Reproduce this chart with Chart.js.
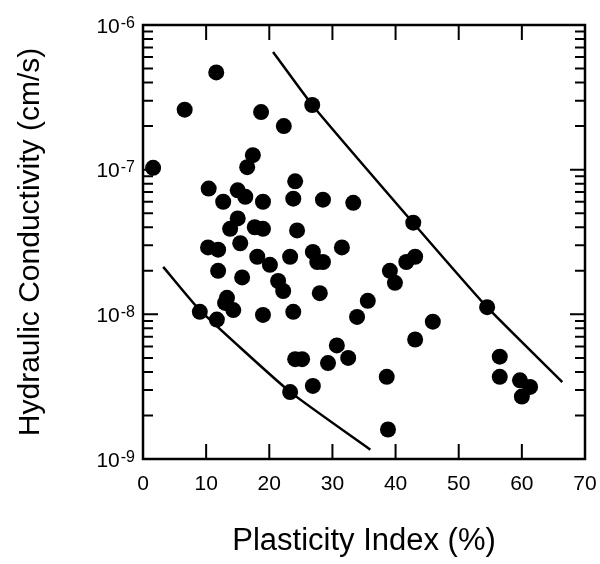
<!DOCTYPE html>
<html>
<head>
<meta charset="utf-8">
<script src="https://cdn.jsdelivr.net/npm/chart.js@4"></script>
<style>
  html, body { margin: 0; padding: 0; background: #fff; }
  canvas { display: block; }
</style>
</head>
<body>
<canvas id="chart" width="600" height="564"></canvas>
<script>
// ================= DATA =================
const plasticityIndex = [
  11.6, 6.6, 18.7, 22.3, 26.8, 17.4, 16.5, 1.6, 10.4, 12.7,
  15.0, 16.2, 19.0, 24.1, 23.8, 28.5, 33.3, 15.0, 13.8, 17.7,
  19.0, 15.4, 10.3, 11.9, 24.4, 23.3, 18.1, 20.1, 21.4, 22.2,
  11.9, 15.7, 13.3, 9.0, 11.7, 13.0, 14.3, 19.0, 23.8, 31.5,
  26.9, 27.6, 28.5, 28.0, 39.1, 39.9, 41.7, 43.1, 42.8, 35.6,
  33.9, 43.1, 45.9, 24.1, 25.2, 30.7, 29.3, 32.5, 26.9, 23.3,
  38.6, 38.8, 54.5, 56.5, 56.5, 59.7, 61.3, 60.0
];
const conductivity = [
  4.7e-7, 2.6e-7, 2.5e-7, 2.0e-7, 2.8e-7, 1.26e-7, 1.04e-7, 1.03e-7, 7.4e-8, 6.0e-8,
  7.2e-8, 6.5e-8, 6.0e-8, 8.3e-8, 6.3e-8, 6.2e-8, 5.9e-8, 4.6e-8, 3.9e-8, 4.0e-8,
  3.9e-8, 3.1e-8, 2.9e-8, 2.8e-8, 3.8e-8, 2.5e-8, 2.5e-8, 2.2e-8, 1.7e-8, 1.45e-8,
  2.0e-8, 1.8e-8, 1.3e-8, 1.04e-8, 9.2e-9, 1.2e-8, 1.07e-8, 9.9e-9, 1.04e-8, 2.9e-8,
  2.7e-8, 2.3e-8, 2.3e-8, 1.4e-8, 2.0e-8, 1.65e-8, 2.3e-8, 2.5e-8, 4.3e-8, 1.24e-8,
  9.6e-9, 6.7e-9, 8.9e-9, 4.9e-9, 4.9e-9, 6.1e-9, 4.6e-9, 5.0e-9, 3.2e-9, 2.9e-9,
  3.7e-9, 1.6e-9, 1.12e-8, 5.1e-9, 3.7e-9, 3.5e-9, 3.15e-9, 2.7e-9
];

// bounding curves
const upperCurvePI = [20.6, 26.8, 42.8, 54.5, 66.4];
const upperCurveK = [6.5e-7, 2.8e-7, 4.28e-8, 1.12e-8, 3.4e-9];
const lowerCurvePI = [3.2, 9.0, 23.3, 36.0];
const lowerCurveK = [2.13e-8, 1.07e-8, 2.91e-9, 1.16e-9];

// axes
const xTicks = [0, 10, 20, 30, 40, 50, 60, 70];
const yDecades = [1e-9, 1e-8, 1e-7, 1e-6];
const yDecadeBase = "10";
const yDecadeExponents = ["-9", "-8", "-7", "-6"];
const yMinorSteps = [2, 3, 4, 5, 6, 7, 8, 9];

const FONT = "'Liberation Sans', Arial, Helvetica, sans-serif";

function toPoints(xs, ys) {
  return xs.map((x, i) => ({ x: x, y: ys[i] }));
}

// ================= INWARD TICKS, FRAME, DECADE LABELS =================
const frameTicks = {
  id: "frameTicks",
  afterDraw(chart) {
    const { ctx, chartArea: a, scales: { x, y } } = chart;
    ctx.save();
    ctx.strokeStyle = "#000";
    ctx.lineWidth = 2;
    ctx.beginPath();
    x.ticks.forEach(t => {
      if (t.value <= x.min || t.value >= x.max) return;
      const px = x.getPixelForValue(t.value);
      ctx.moveTo(px, a.bottom); ctx.lineTo(px, a.bottom - 15);
      ctx.moveTo(px, a.top); ctx.lineTo(px, a.top + 15);
    });
    y.ticks.forEach(t => {
      const py = y.getPixelForValue(t.value);
      const len = yDecades.includes(t.value) ? 15 : 10;
      ctx.moveTo(a.left, py); ctx.lineTo(a.left + len, py);
      ctx.moveTo(a.right, py); ctx.lineTo(a.right - len, py);
    });
    ctx.stroke();
    ctx.lineWidth = 2.5;
    ctx.strokeRect(a.left, a.top, a.right - a.left, a.bottom - a.top);

    // 10 with superscript exponent, right aligned left of the axis
    ctx.fillStyle = "#000";
    ctx.textBaseline = "alphabetic";
    ctx.textAlign = "left";
    yDecades.forEach((d, i) => {
      const py = y.getPixelForValue(d);
      ctx.font = "16px " + FONT;
      const expW = ctx.measureText(yDecadeExponents[i]).width;
      ctx.font = "21px " + FONT;
      const baseW = ctx.measureText(yDecadeBase).width;
      const right = a.left - 8;
      ctx.fillText(yDecadeBase, right - expW - baseW - 1, py + 7.5);
      ctx.font = "16px " + FONT;
      ctx.fillText(yDecadeExponents[i], right - expW, py + 2.5);
    });
    ctx.restore();
  }
};

// ================= CHART =================
const curveStyle = {
  type: "line",
  borderColor: "#000",
  borderWidth: 2.5,
  pointRadius: 0,
  fill: false,
  tension: 0.15
};

new Chart(document.getElementById("chart"), {
  type: "scatter",
  data: {
    datasets: [
      {
        label: "Data",
        data: toPoints(plasticityIndex, conductivity),
        backgroundColor: "#000",
        borderWidth: 0,
        pointRadius: 8,
        pointHoverRadius: 8
      },
      Object.assign({ label: "Upper", data: toPoints(upperCurvePI, upperCurveK) }, curveStyle),
      Object.assign({ label: "Lower", data: toPoints(lowerCurvePI, lowerCurveK) }, curveStyle)
    ]
  },
  options: {
    responsive: false,
    animation: false,
    events: [],
    layout: { padding: { left: 0, right: 15, top: 25, bottom: 0 } },
    plugins: {
      legend: { display: false },
      tooltip: { enabled: false }
    },
    scales: {
      x: {
        type: "linear",
        min: 0,
        max: 70,
        grid: { display: false, drawTicks: false },
        border: { display: false },
        afterBuildTicks: scale => { scale.ticks = xTicks.map(v => ({ value: v })); },
        afterFit: scale => {
          scale.height = 105;
          scale.paddingLeft = 0;
          scale.paddingRight = 0;
        },
        ticks: {
          color: "#000",
          padding: 13,
          maxRotation: 0,
          font: { family: FONT, size: 21 }
        },
        title: {
          display: true,
          text: "Plasticity Index (%)",
          color: "#000",
          padding: { top: 0, bottom: 4 },
          font: { family: FONT, size: 31 }
        }
      },
      y: {
        type: "logarithmic",
        min: 1e-9,
        max: 1e-6,
        grid: { display: false, drawTicks: false },
        border: { display: false },
        afterBuildTicks: scale => {
          const ticks = [];
          yDecades.forEach((d, i) => {
            ticks.push({ value: d });
            if (i < yDecades.length - 1) yMinorSteps.forEach(m => ticks.push({ value: m * d }));
          });
          scale.ticks = ticks;
        },
        afterFit: scale => {
          scale.width = 143;
          scale.paddingTop = 0;
          scale.paddingBottom = 0;
        },
        ticks: { display: false },
        title: {
          display: true,
          text: "Hydraulic Conductivity (cm/s)",
          color: "#000",
          padding: { top: 13, bottom: 0 },
          font: { family: FONT, size: 30 }
        }
      }
    }
  },
  plugins: [frameTicks]
});
</script>
</body>
</html>
